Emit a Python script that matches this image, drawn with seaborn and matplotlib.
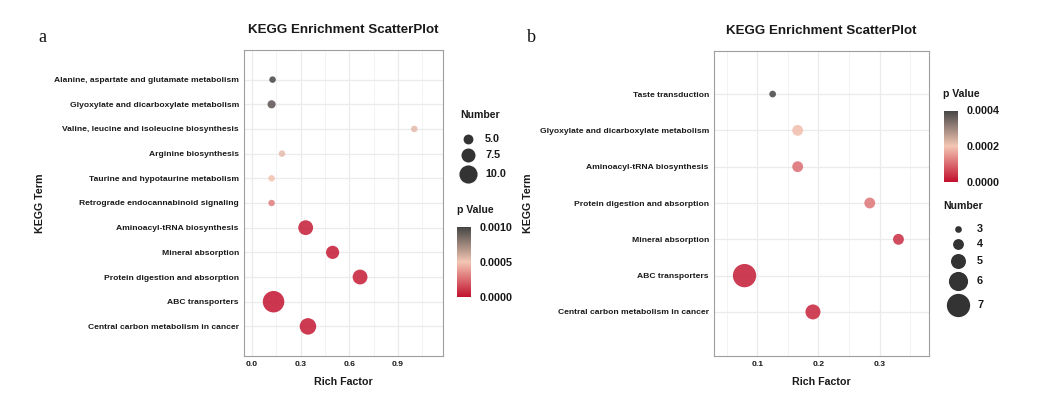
import matplotlib
matplotlib.use("Agg")
import matplotlib.pyplot as plt
import seaborn as sns
import pandas as pd
from matplotlib.colors import LinearSegmentedColormap, Normalize
from matplotlib.cm import ScalarMappable
from matplotlib.ticker import MultipleLocator, FormatStrFormatter

# ---- data: panel a ----
terms_a = [
    "Alanine, aspartate and glutamate metabolism",
    "Glyoxylate and dicarboxylate metabolism",
    "Valine, leucine and isoleucine biosynthesis",
    "Arginine biosynthesis",
    "Taurine and hypotaurine metabolism",
    "Retrograde endocannabinoid signaling",
    "Aminoacyl-tRNA biosynthesis",
    "Mineral absorption",
    "Protein digestion and absorption",
    "ABC transporters",
    "Central carbon metabolism in cancer",
]
rich_a = [0.127, 0.121, 1.0, 0.185, 0.121, 0.121, 0.331, 0.497, 0.666, 0.133, 0.345]
count_a = [3, 4, 3, 3, 3, 3, 8, 7, 8, 12, 9]
pval_a = [0.00100, 0.00094, 0.00055, 0.00054, 0.00049, 0.00030,
          0.00003, 0.00002, 0.00003, 0.00001, 0.00002]
size_breaks_a = [5.0, 7.5, 10.0]
p_ticks_a = [0.0, 0.0005, 0.0010]

# ---- data: panel b ----
terms_b = [
    "Taste transduction",
    "Glyoxylate and dicarboxylate metabolism",
    "Aminoacyl-tRNA biosynthesis",
    "Protein digestion and absorption",
    "Mineral absorption",
    "ABC transporters",
    "Central carbon metabolism in cancer",
]
rich_b = [0.125, 0.166, 0.166, 0.284, 0.331, 0.079, 0.191]
count_b = [3, 4, 4, 4, 4, 7, 5]
pval_b = [0.00040, 0.00019, 0.00010, 0.00011, 0.00003, 0.00001, 0.00002]
size_breaks_b = [3, 4, 5, 6, 7]
p_ticks_b = [0.0, 0.0002, 0.0004]

W, H, DPI = 1039, 400, 100
TXT = "#1a1a1a"

sns.set_theme(style="whitegrid")
plt.rcParams["font.family"] = ["Liberation Sans", "DejaVu Sans"]

cmap = LinearSegmentedColormap.from_list("kegg", ["#C2112E", "#F4C6B3", "#454545"])


def px_rect(x0, y0, x1, y1):
    return [x0 / W, 1 - y1 / H, (x1 - x0) / W, (y1 - y0) / H]


def area(d_px):
    # marker area in pt^2 for a diameter given in pixels
    return (d_px * 72 / DPI) ** 2


def diam_a(n):
    return 1.5 + 1.667 * n


def diam_b(n):
    return 6.7 + 4.15 * (n - 3)


def draw_panel(fig, rect, terms, rich, count, pval, xlim, major, minor, diam, vmax):
    ax = fig.add_axes(px_rect(*rect))
    df = pd.DataFrame({"term": terms, "rich": rich, "count": count, "p": pval})
    norm = Normalize(0, vmax)
    sns.scatterplot(data=df, x="rich", y="term", hue="p", size="count",
                    palette=cmap, hue_norm=norm,
                    sizes={n: area(diam(n)) for n in set(count)},
                    alpha=0.85, linewidth=0, legend=False, ax=ax, zorder=3)
    n = len(terms)
    ax.set_ylim(n - 1 + 1.2, -1.2)
    ax.set_xlim(*xlim)
    ax.xaxis.set_major_locator(MultipleLocator(major))
    ax.xaxis.set_minor_locator(MultipleLocator(minor))
    ax.xaxis.set_major_formatter(FormatStrFormatter("%.1f"))
    ax.set_axisbelow(True)
    ax.grid(True, which="major", color="#ebebeb", lw=0.9)
    ax.grid(True, which="minor", axis="x", color="#f1f1f1", lw=0.6)
    for s in ax.spines.values():
        s.set_color("#9e9e9e")
        s.set_linewidth(0.8)
    ax.tick_params(which="major", length=2.2, width=0.6, color="#555555",
                   pad=1.5, labelsize=6.1, labelcolor=TXT)
    ax.tick_params(which="minor", length=0)
    for lab in ax.get_xticklabels() + ax.get_yticklabels():
        lab.set_fontweight("bold")
    ax.set_xlabel("Rich Factor", fontsize=7.7, fontweight="bold", color=TXT)
    ax.set_ylabel("KEGG Term", fontsize=7.7, fontweight="bold", color=TXT)
    x0, y0, x1, y1 = rect
    ax.xaxis.set_label_coords(0.5, -(382 - y1) / (y1 - y0))
    ax.xaxis.label.set_va("center")
    ax.yaxis.label.set_va("center")
    ax.text(0.5, 1 + 20 / (y1 - y0), "KEGG Enrichment ScatterPlot",
            transform=ax.transAxes, ha="center", va="center",
            fontsize=9.6, fontweight="bold", color=TXT)
    return ax, norm


def size_legend(ov, title_xy, x_dot, x_lab, y_first, breaks, fmt, diam):
    ov.text(*title_xy, "Number", fontsize=7.6, fontweight="bold",
            ha="left", va="center", color=TXT)
    y, prev_k = y_first, None
    for b in breaks:
        d = diam(b)
        k = max(15, d + 3)
        if prev_k is not None:
            y += (prev_k + k) / 2
        ov.scatter([x_dot], [y], s=area(d), color="#333333", lw=0)
        ov.text(x_lab, y, fmt.format(b), fontsize=7.8, fontweight="bold",
                ha="left", va="center", color=TXT)
        prev_k = k


def color_legend(fig, ov, title_xy, rect, norm, ticks):
    ov.text(*title_xy, "p Value", fontsize=7.6, fontweight="bold",
            ha="left", va="center", color=TXT)
    cax = fig.add_axes(px_rect(*rect))
    cb = fig.colorbar(ScalarMappable(norm=norm, cmap=cmap), cax=cax, ticks=ticks)
    cb.outline.set_visible(False)
    cax.yaxis.set_major_formatter(FormatStrFormatter("%.4f"))
    cax.tick_params(length=2, color="white", width=0.6, pad=4,
                    labelsize=7.8, labelcolor=TXT)
    for lab in cax.get_yticklabels():
        lab.set_fontweight("bold")


fig = plt.figure(figsize=(W / DPI, H / DPI), dpi=DPI)

rect_a = (244, 50, 443, 356)
ax_a, norm_a = draw_panel(fig, rect_a, terms_a, rich_a, count_a, pval_a,
                          (-0.049, 1.177), 0.3, 0.15, diam_a, 0.0010)
ax_a.yaxis.set_label_coords(-(244 - 40) / (443 - 244), 0.5)

rect_b = (714, 50.5, 929, 355.5)
ax_b, norm_b = draw_panel(fig, rect_b, terms_b, rich_b, count_b, pval_b,
                          (0.029, 0.381), 0.1, 0.05, diam_b, 0.0004)
ax_b.yaxis.set_label_coords(-(714 - 528) / (929 - 714), 0.5)

# overlay in pixel coordinates for legends and panel letters
ov = fig.add_axes([0, 0, 1, 1])
ov.set_xlim(0, W)
ov.set_ylim(H, 0)
ov.axis("off")

size_legend(ov, (460, 115), 468, 485, 139, size_breaks_a, "{:.1f}", diam_a)
color_legend(fig, ov, (457, 210), (457, 227, 471, 297), norm_a, p_ticks_a)

color_legend(fig, ov, (943, 94), (944, 110.5, 958, 181.5), norm_b, p_ticks_b)
size_legend(ov, (943, 206), 958, 977, 229, size_breaks_b, "{:d}", diam_b)

for letter, xy in (("a", (42.5, 38)), ("b", (531, 37))):
    ov.text(*xy, letter, fontsize=13, family="Liberation Serif",
            ha="center", va="center", color="#111111")

fig.savefig("out.png", dpi=DPI)
plt.close(fig)
